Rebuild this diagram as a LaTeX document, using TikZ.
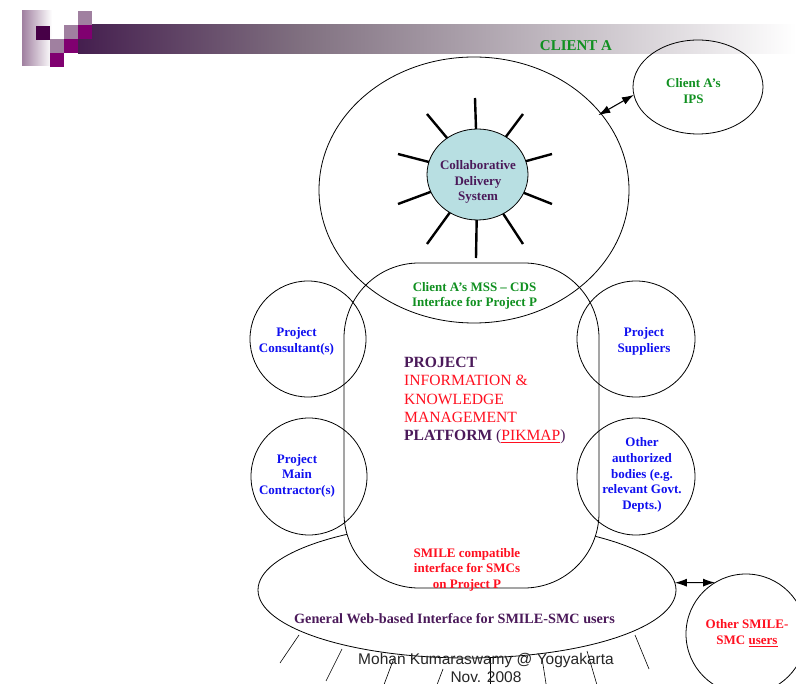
\documentclass[tikz,border=0pt]{standalone}
\usepackage{fontspec}
\setmainfont{Liberation Serif}
\newfontfamily\footfont{Liberation Sans}
\usetikzlibrary{shapes.geometric,arrows.meta}
\definecolor{grn}{HTML}{109020}
\definecolor{blu}{HTML}{1010F0}
\definecolor{rd}{HTML}{FF1020}
\definecolor{pur}{HTML}{4B1A5A}
\definecolor{lightp}{HTML}{A080A0}
\definecolor{midp}{HTML}{800070}
\definecolor{darkp}{HTML}{470047}
\definecolor{barstart}{HTML}{451F4F}
\definecolor{barmid}{HTML}{807080}
\definecolor{cdsfill}{HTML}{B8DFE2}
\tikzset{
  x=1pt,y=-1pt,
  oval/.style={draw=black,ellipse,line width=0.8pt,inner sep=0pt,outer sep=0pt},
  lab/.style={font=\bfseries\fontsize{13}{15.6}\selectfont,align=center,inner sep=0pt},
  ray/.style={line width=2.4pt},
  thinray/.style={line width=0.6pt},
  both/.style={line width=1.1pt,{Latex[length=12pt,width=8pt]}-{Latex[length=12pt,width=8pt]}},
  sq/.style={minimum size=14.3pt,inner sep=0pt,outer sep=0pt,anchor=north west,draw=none}
}
\begin{document}
\begin{tikzpicture}
\useasboundingbox (0,0) rectangle (796,684);
\clip (0,0) rectangle (796,684);
\fill[white] (0,0) rectangle (796,684);
% header band
\shade[left color=lightp,right color=white] (22,11) rectangle (52,66);
\shade[left color=barstart,right color=barmid] (78,25) rectangle (300.5,54);
\shade[left color=barmid,right color=white] (300,25) rectangle (796,54);
\node[sq,fill=darkp] (s1) at (36,26) {};
\node[sq,fill=lightp] (s2) at (50,39) {};
\node[sq,fill=midp] (s3) at (50,53) {};
\node[sq,fill=lightp] (s4) at (64,25) {};
\node[sq,fill=midp] (s5) at (64,39) {};
\node[sq,fill=lightp] (s6) at (78,11) {};
\node[sq,fill=midp] (s7) at (78,25) {};
\node[lab,text=grn,font=\bfseries\fontsize{15}{16}\selectfont] (clienta) at (576,46) {CLIENT A};
% shapes
\node[oval,minimum width=418pt,minimum height=136pt] (gen) at (467,590) {};
\node[draw=black,fill=white,line width=0.8pt,rounded corners=75pt,minimum width=255pt,minimum height=325pt,inner sep=0pt,outer sep=0pt] (pik) at (471.5,425.5) {};
\node[oval,minimum width=310pt,minimum height=266pt] (big) at (474,190) {};
\node[oval,minimum width=130pt,minimum height=94pt] (ips) at (698,87) {};
\node[oval,fill=cdsfill,minimum width=101pt,minimum height=91pt] (cds) at (477.5,174.5) {};
\node[oval,minimum width=116pt,minimum height=116pt] (c1) at (308,339) {};
\node[oval,minimum width=116pt,minimum height=117pt] (c2) at (309,476.5) {};
\node[oval,minimum width=118pt,minimum height=116pt] (c3) at (636,339) {};
\node[oval,minimum width=118pt,minimum height=117pt] (c4) at (636,476.5) {};
\node[oval,minimum width=120pt,minimum height=120pt] (oth) at (746,634) {};
% sun rays
\coordinate (r1) at (475,98);
\coordinate (r2) at (523,114);
\coordinate (r3) at (552,154);
\coordinate (r4) at (552,204);
\coordinate (r5) at (523,244);
\coordinate (r6) at (476,258);
\coordinate (r7) at (427,244);
\coordinate (r8) at (398,204);
\coordinate (r9) at (398,154);
\coordinate (r10) at (427,114);
\foreach \i in {1,...,10} \draw[ray] (cds) -- (r\i);
% arrows
\draw[both,shorten <=-3pt] (big.31) -- (ips.187);
\draw[both] (gen.2) -- (oth.121);
% lower rays
\coordinate (b1a) at (299,635); \coordinate (b1b) at (280,663);
\coordinate (b2a) at (342,649); \coordinate (b2b) at (326,681);
\coordinate (b3a) at (394,658); \coordinate (b3b) at (382,690);
\coordinate (b4a) at (443,669); \coordinate (b4b) at (435,690);
\coordinate (b5a) at (490,658); \coordinate (b5b) at (490,690);
\coordinate (b6a) at (542,658); \coordinate (b6b) at (547,690);
\coordinate (b7a) at (587,651); \coordinate (b7b) at (597,685);
\coordinate (b8a) at (635,635); \coordinate (b8b) at (649,669);
\foreach \i in {1,...,8} \draw[thinray] (b\i a) -- (b\i b);
% labels
\node[lab,text=pur] (t1) at (478,182) {Collaborative\\Delivery\\System};
\node[lab,text=grn] (t2) at (693.5,91) {Client A’s\\IPS};
\node[lab,text=grn] (t3) at (474.5,296) {Client A’s MSS – CDS\\Interface for Project P};
\node[lab,text=blu] (t4) at (296.5,341.5) {Project\\Consultant(s)};
\node[lab,text=blu] (t5) at (297,475.5) {Project\\Main\\Contractor(s)};
\node[lab,text=blu] (t6) at (644,341.5) {Project\\Suppliers};
\node[lab,text=blu] (t7) at (642,475) {Other\\authorized\\bodies (e.g.\\relevant Govt.\\Depts.)};
\node[lab,text=rd] (t8) at (467,569.5) {SMILE compatible\\interface for SMCs\\on Project P};
\node[lab,text=pur,font=\bfseries\fontsize{14.2}{16}\selectfont] (t9) at (454.5,619) {General Web-based Interface for SMILE-SMC users};
\node[lab,text=rd] (t10) at (747,633) {Other SMILE-\\SMC \underline{users}};
\node[inner sep=0pt,align=left,anchor=north west,font=\fontsize{15.6}{18.3}\selectfont,text=rd] (t11) at (404,357)
 {\textcolor{pur}{\textbf{PROJECT}}\\INFORMATION \&\\KNOWLEDGE\\MANAGEMENT\\\textcolor{pur}{\textbf{PLATFORM}} \textcolor{pur}{(}\underline{PIKMAP}\textcolor{pur}{)}};
\node[inner sep=0pt,align=center,font=\footfont\fontsize{15.5}{17.5}\selectfont,text=black!85] (t12) at (486,668) {Mohan Kumaraswamy @ Yogyakarta\\Nov. 2008};
\end{tikzpicture}
\end{document}
